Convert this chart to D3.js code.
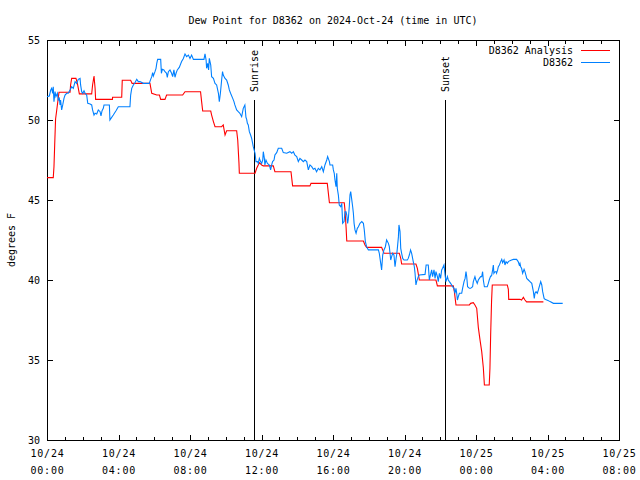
<!DOCTYPE html>
<html>
<head>
<meta charset="utf-8">
<script src="https://cdn.jsdelivr.net/npm/d3@7"></script>
<style>
  html, body { margin: 0; padding: 0; background: #fff; }
  svg { display: block; font-family: "DejaVu Sans Mono", "Liberation Mono", monospace; }
</style>
</head>
<body>
<svg id="chart" width="640" height="480"></svg>
<script>
// ---- Data (hours after 2024-10-24 00:00 UTC, dew point in °F) ----
const titleText = "Dew Point for D8362 on 2024-Oct-24 (time in UTC)";
const yLabel = "degrees F";
const seriesNames = ["D8362 Analysis", "D8362"];
const seriesColors = ["#ff0000", "#0080ff"];
const yTicks = [30, 35, 40, 45, 50, 55];
const xTickHours = [0, 4, 8, 12, 16, 20, 24, 28, 32];
const sunEvents = ["Sunrise", "Sunset"];
const sunHours = [11.60, 22.25];

const analysisHours = [0,0.35,0.39,0.43,0.48,0.54,0.67,1.29,1.32,1.38,1.62,1.70,1.81,2.50,2.55,2.63,2.69,2.72,3.66,3.67,4.18,4.21,4.68,4.76,5.76,5.86,6.14,6.29,6.36,6.60,6.69,7.59,7.72,8.59,8.65,8.71,9.16,9.21,9.31,9.40,9.77,9.86,9.96,10.05,10.61,10.67,10.74,10.76,11.64,11.73,11.88,12.01,12.10,12.66,12.75,13.65,13.74,14.71,14.77,15.68,15.80,16.63,16.67,16.73,16.77,17.70,17.79,17.88,18.72,18.78,18.85,19.71,19.79,19.84,20.64,20.72,20.83,21.76,21.84,22.73,22.79,22.88,23.63,23.70,23.85,23.94,24.04,24.13,24.22,24.32,24.41,24.47,24.74,24.78,24.82,24.87,24.91,25.75,25.81,25.83,26.46,26.55,26.65,26.74,26.83,27.77];
const analysisValues = [46.40,46.40,47.08,48.44,50.06,50.58,51.73,51.73,52.19,52.60,52.60,52.29,51.63,51.63,52.19,52.75,51.98,51.29,51.29,51.42,51.42,52.48,52.48,52.29,52.29,51.67,51.56,51.56,51.29,51.29,51.56,51.56,51.77,51.77,51.15,50.56,50.56,50.31,49.90,49.58,49.58,49.69,49.06,49.33,49.33,48.75,47.29,46.67,46.67,46.98,47.33,47.19,47.13,47.13,46.77,46.77,45.88,45.88,46.04,46.04,44.83,44.83,44.38,43.33,42.44,42.44,42.19,42.04,42.04,41.88,41.67,41.67,41.35,41.00,41.00,40.73,40.00,40.00,39.63,39.63,39.27,38.44,38.44,38.54,38.58,38.44,38.23,37.04,36.29,35.52,34.52,33.44,33.44,34.48,36.56,38.65,39.69,39.69,39.42,38.79,38.79,38.75,38.92,38.75,38.63,38.63];

const obsHours = [0.00,0.13,0.21,0.26,0.32,0.35,0.39,0.45,0.50,0.58,0.63,0.69,0.73,0.76,0.82,0.88,0.95,1.01,1.10,1.19,1.29,1.38,1.47,1.57,1.66,1.75,1.85,1.88,1.94,2.00,2.07,2.13,2.22,2.28,2.41,2.50,2.55,2.63,2.69,2.78,2.87,2.97,3.02,3.08,3.15,3.19,3.49,3.52,3.58,3.71,3.86,3.99,4.64,4.68,4.74,4.83,4.92,5.02,5.11,5.20,5.39,5.72,5.80,5.86,5.91,5.95,6.04,6.10,6.14,6.19,6.36,6.40,6.45,6.54,6.60,6.69,6.73,6.79,6.88,6.97,7.03,7.10,7.16,7.22,7.29,7.40,7.53,7.63,7.72,7.81,7.91,8.00,8.09,8.19,8.78,8.84,8.90,8.93,8.99,9.04,9.08,9.16,9.21,9.31,9.40,9.49,9.59,9.64,9.70,9.77,9.82,9.86,9.96,10.05,10.14,10.20,10.27,10.39,10.46,10.51,10.61,10.70,10.79,10.89,10.98,11.07,11.13,11.17,11.21,11.26,11.32,11.39,11.45,11.54,11.64,11.69,11.77,11.82,11.88,11.95,12.01,12.07,12.10,12.16,12.19,12.25,12.33,12.44,12.51,12.57,12.62,12.70,12.75,12.85,12.94,13.13,13.22,13.41,13.59,13.69,13.78,13.87,13.97,14.06,14.15,14.25,14.34,14.43,14.53,14.62,14.71,14.81,14.90,14.99,15.08,15.18,15.27,15.37,15.46,15.55,15.65,15.70,15.80,15.83,15.98,16.02,16.07,16.11,16.17,16.21,16.24,16.30,16.35,16.43,16.49,16.54,16.62,16.67,16.73,16.77,16.82,16.86,16.91,16.95,16.99,17.04,17.10,17.14,17.18,17.23,17.29,17.36,17.42,17.51,17.61,17.70,17.75,17.81,17.88,17.98,18.54,18.59,18.67,18.72,18.78,18.85,18.93,19.00,19.10,19.15,19.19,19.23,19.28,19.34,19.41,19.47,19.53,19.56,19.60,19.66,19.69,19.75,19.79,19.84,19.90,19.97,20.16,20.21,20.27,20.34,20.40,20.49,20.55,20.59,20.64,20.68,20.77,20.83,21.15,21.21,21.33,21.39,21.43,21.52,21.57,21.65,21.71,21.76,21.84,21.89,21.95,22.02,22.08,22.13,22.21,22.27,22.32,22.40,22.45,22.51,22.58,22.64,22.69,22.77,22.82,22.88,22.92,22.96,23.01,23.07,23.20,23.25,23.33,23.39,23.44,23.48,23.53,23.63,23.70,23.81,23.85,23.94,23.99,24.07,24.13,24.19,24.26,24.32,24.37,24.41,24.47,24.63,24.69,24.74,24.82,24.87,24.93,24.97,25.00,25.06,25.12,25.15,25.21,25.25,25.31,25.38,25.44,25.49,25.57,25.62,25.68,25.75,25.81,25.90,25.99,26.09,26.27,26.36,26.42,26.46,26.50,26.55,26.61,26.69,26.74,26.84,26.93,27.02,27.12,27.21,27.26,27.30,27.36,27.43,27.49,27.54,27.62,27.68,27.73,27.81,27.86,27.96,28.05,28.14,28.33,28.85];
const obsValues = [51.46,51.50,51.88,51.98,51.67,52.08,51.15,51.77,51.46,51.67,51.25,51.35,50.94,51.25,50.63,50.94,51.35,51.56,51.67,51.67,51.88,52.08,51.98,52.40,52.29,52.54,52.60,52.19,51.77,51.67,51.83,51.67,51.56,51.04,51.00,50.94,50.63,50.31,50.42,50.38,50.63,50.52,50.25,50.58,50.73,50.94,50.94,50.00,50.10,50.31,50.58,50.83,50.83,51.56,51.98,52.19,52.33,52.54,52.40,52.40,52.29,52.29,52.54,52.71,52.96,52.75,53.02,53.23,53.54,53.79,53.79,52.92,53.17,53.13,53.02,52.92,52.67,53.02,53.13,52.92,52.71,53.13,52.67,52.92,53.13,53.29,53.65,53.85,54.13,53.96,54.06,53.85,54.06,53.79,53.79,54.13,53.75,53.23,53.54,53.13,53.85,53.44,52.71,52.60,52.29,52.19,51.67,51.15,51.67,52.50,53.02,52.81,52.60,52.50,52.19,51.88,51.67,51.35,51.15,50.94,50.63,50.52,50.42,50.21,50.73,50.94,50.17,50.04,49.79,49.69,49.27,49.06,48.85,48.33,47.92,47.40,47.40,47.29,47.60,47.40,47.29,47.50,48.02,47.60,47.19,47.50,47.29,47.19,46.88,47.19,47.40,47.50,47.81,47.96,48.23,48.23,47.96,47.92,48.02,47.92,48.02,47.81,47.71,47.40,47.60,47.50,47.40,47.50,47.40,46.88,47.19,47.08,46.92,46.98,46.77,46.98,46.88,47.08,46.77,47.19,47.50,47.71,47.40,47.19,47.19,46.88,46.67,46.25,45.83,46.67,45.73,45.31,44.69,44.58,44.79,43.54,43.65,44.27,44.27,44.06,43.54,43.85,44.58,45.31,45.52,45.10,44.58,44.17,43.54,43.13,42.92,43.23,43.33,43.54,43.65,43.54,43.13,42.40,42.08,41.88,41.88,41.67,41.04,40.63,41.56,41.88,42.08,42.50,42.29,42.08,41.67,41.25,41.46,41.67,41.56,40.83,41.35,41.56,41.98,42.71,43.44,43.02,41.98,41.67,41.35,41.25,41.25,41.35,41.56,41.88,41.67,41.15,40.83,40.42,39.69,39.90,40.21,40.31,40.35,40.94,40.94,40.00,40.21,40.63,40.21,40.63,40.10,40.52,40.21,39.90,40.42,40.10,40.63,40.73,40.94,40.31,39.90,40.21,40.00,39.90,39.79,39.69,39.58,39.48,39.17,39.48,39.17,38.75,38.96,39.17,39.17,39.48,39.90,40.10,40.52,40.21,39.58,39.48,39.48,39.58,39.90,40.21,40.00,39.79,40.00,40.10,40.21,40.21,40.52,40.00,39.58,39.58,39.79,40.00,40.25,40.25,40.63,40.94,40.42,40.52,40.52,40.42,40.63,40.83,40.94,41.15,41.29,41.08,41.25,40.94,41.15,41.04,41.15,41.21,41.25,41.29,41.29,41.15,40.94,41.04,40.83,40.73,40.42,40.67,40.52,40.10,40.00,39.90,39.79,39.27,38.85,39.17,39.27,39.17,39.38,39.58,39.90,39.69,39.27,38.85,38.79,38.75,38.71,38.65,38.54,38.54];

// ---- Layout ----
const W = 640, H = 480;
const pLeft = 47, pRight = 619, pTop = 40, pBottom = 440;
const baseMs = Date.UTC(2024, 9, 24, 0, 0, 0);
const toDate = h => new Date(baseMs + h * 3600e3);

const svg = d3.select("#chart");
const x = d3.scaleUtc().domain([toDate(0), toDate(32)]).range([pLeft, pRight]);
const y = d3.scaleLinear().domain([30, 55]).range([pBottom, pTop]);
const px = v => Math.round(v) + 0.5;

svg.append("rect").attr("width", W).attr("height", H).attr("fill", "#fff");

// Title
svg.append("text").attr("x", 333).attr("y", 24).attr("text-anchor", "middle")
  .attr("font-size", 10).attr("fill", "#000").text(titleText);

// Frame
const g = svg.append("g").attr("shape-rendering", "crispEdges");
g.append("rect").attr("x", pLeft + 0.5).attr("y", pTop + 0.5)
  .attr("width", pRight - pLeft).attr("height", pBottom - pTop)
  .attr("fill", "none").attr("stroke", "#000").attr("stroke-width", 1);

// X ticks: every hour, major every 4 h (bottom + mirrored top)
const hourTicks = d3.range(1, 32);
hourTicks.forEach(h => {
  const len = (h % 4 === 0) ? 5 : 3;
  const xx = px(x(toDate(h)));
  g.append("line").attr("x1", xx).attr("x2", xx).attr("y1", pBottom).attr("y2", pBottom - len).attr("stroke", "#000");
  g.append("line").attr("x1", xx).attr("x2", xx).attr("y1", pTop + 1).attr("y2", pTop + 1 + len).attr("stroke", "#000");
});
// X labels
const fDay = d3.utcFormat("%m/%d"), fTime = d3.utcFormat("%H:%M");
const xl = svg.append("g").attr("font-size", 10).attr("text-anchor", "middle").attr("fill", "#000");
xTickHours.forEach(h => {
  const d = toDate(h);
  xl.append("text").attr("x", x(d) + 0.5).attr("y", 457).attr("letter-spacing", 0.8).text(fDay(d));
  xl.append("text").attr("x", x(d) + 0.5).attr("y", 474).attr("letter-spacing", 0.8).text(fTime(d));
});

// Y ticks + labels
yTicks.forEach(v => {
  const yy = px(y(v));
  if (v !== 30 && v !== 55) {
    g.append("line").attr("x1", pLeft + 1).attr("x2", pLeft + 6).attr("y1", yy).attr("y2", yy).attr("stroke", "#000");
    g.append("line").attr("x1", pRight).attr("x2", pRight - 5).attr("y1", yy).attr("y2", yy).attr("stroke", "#000");
  }
  svg.append("text").attr("x", 40).attr("y", y(v) + 4).attr("text-anchor", "end")
    .attr("font-size", 10).attr("fill", "#000").text(v);
});

// Y axis label
svg.append("text").attr("transform", `translate(15,${(pTop + pBottom) / 2}) rotate(-90)`)
  .attr("text-anchor", "middle").attr("font-size", 10).attr("fill", "#000").text(yLabel);

// Sunrise / Sunset markers
sunHours.forEach((h, i) => {
  const xx = px(x(toDate(h)));
  g.append("line").attr("x1", xx).attr("x2", xx).attr("y1", 100).attr("y2", pBottom).attr("stroke", "#000");
  svg.append("text").attr("transform", `translate(${xx + 3.5},92) rotate(-90)`)
    .attr("text-anchor", "start").attr("font-size", 10).attr("fill", "#000").text(sunEvents[i]);
});

// Series lines
const line = d3.line().x(d => x(toDate(d[0]))).y(d => y(d[1]));
const analysisData = analysisHours.map((h, i) => [h, analysisValues[i]]);
const obsData = obsHours.map((h, i) => [h, obsValues[i]]);
[analysisData, obsData].forEach((data, i) => {
  svg.append("path").datum(data).attr("d", line).attr("fill", "none")
    .attr("stroke", seriesColors[i]).attr("stroke-width", 1.1)
    .attr("stroke-linejoin", "miter");
});

// Legend
const legY = [50, 62];
seriesNames.forEach((name, i) => {
  svg.append("text").attr("x", 573).attr("y", legY[i] + 4).attr("text-anchor", "end")
    .attr("font-size", 10).attr("fill", "#000").text(name);
  g.append("line").attr("x1", 581).attr("x2", 610).attr("y1", legY[i] + 0.5).attr("y2", legY[i] + 0.5)
    .attr("stroke", seriesColors[i]);
});
</script>
</body>
</html>
